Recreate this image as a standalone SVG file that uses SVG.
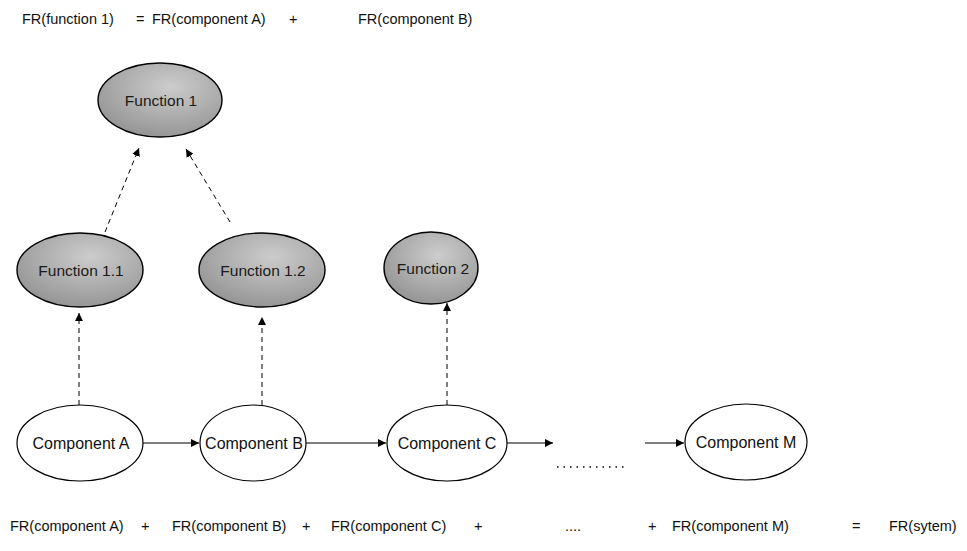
<svg xmlns="http://www.w3.org/2000/svg" width="967" height="551" viewBox="0 0 967 551">
  <defs>
    <marker id="arrow" viewBox="0 0 10 10" refX="10" refY="5" markerWidth="8" markerHeight="8" markerUnits="userSpaceOnUse" orient="auto">
      <path d="M0,0 L10,5 L0,10 z" fill="#000"/>
    </marker>
    <radialGradient id="fnFill" cx="58%" cy="32%" r="72%">
      <stop offset="0" stop-color="#cccccc"/>
      <stop offset="0.55" stop-color="#adadad"/>
      <stop offset="1" stop-color="#939393"/>
    </radialGradient>
  </defs>
  <style>
    text { font-family: "Liberation Sans", Arial, sans-serif; fill: #111; }
    .eq { font-size: 14.5px; }
    .lbl { font-size: 16px; text-anchor: middle; }
    .fn .lbl { font-size: 15.5px; fill: #1a1a1a; }
    .fn ellipse { fill: url(#fnFill); stroke: #000; stroke-width: 1.4; }
    .comp ellipse { fill: #fff; stroke: #000; stroke-width: 1.2; }
    .flow { stroke: #000; stroke-width: 1.2; fill: none; marker-end: url(#arrow); }
    .dash { stroke: #000; stroke-width: 1; fill: none; stroke-dasharray: 5 4; marker-end: url(#arrow); }
  </style>
  <rect width="967" height="551" fill="#fff"/>

  <!-- top equation -->
  <g id="eq-top" class="eq">
    <text x="22" y="24">FR(function 1)</text>
    <text x="136" y="24">=</text>
    <text x="152" y="24">FR(component A)</text>
    <text x="289" y="24">+</text>
    <text x="358" y="24">FR(component B)</text>
  </g>

  <!-- connectors -->
  <g id="connectors">
    <line class="dash" x1="105" y1="232" x2="139" y2="148"/>
    <line class="dash" x1="230" y1="222" x2="186" y2="149"/>
    <line class="dash" x1="79" y1="405" x2="79" y2="313"/>
    <line class="dash" x1="262" y1="405" x2="262" y2="317"/>
    <line class="dash" x1="447" y1="405" x2="447" y2="303"/>
    <line class="flow" x1="143" y1="443" x2="199" y2="443"/>
    <line class="flow" x1="306" y1="443" x2="386" y2="443"/>
    <line class="flow" x1="507" y1="443" x2="553" y2="443"/>
    <line class="flow" x1="645" y1="443" x2="684" y2="443"/>
    <line x1="557" y1="467" x2="626" y2="467" stroke="#000" stroke-width="1.4" stroke-dasharray="1.5 5"/>
  </g>

  <!-- functions -->
  <g id="function-1" class="fn">
    <ellipse cx="160" cy="100" rx="62" ry="37"/>
    <text class="lbl" x="161" y="106">Function 1</text>
  </g>
  <g id="function-1-1" class="fn">
    <ellipse cx="80" cy="270" rx="63" ry="37"/>
    <text class="lbl" x="81" y="276">Function 1.1</text>
  </g>
  <g id="function-1-2" class="fn">
    <ellipse cx="262" cy="270" rx="63" ry="37"/>
    <text class="lbl" x="263" y="276">Function 1.2</text>
  </g>
  <g id="function-2" class="fn">
    <ellipse cx="431" cy="268" rx="47" ry="36"/>
    <text class="lbl" x="433" y="274">Function 2</text>
  </g>

  <!-- components -->
  <g id="component-a" class="comp">
    <ellipse cx="80" cy="443" rx="63" ry="38"/>
    <text class="lbl" x="81" y="449">Component A</text>
  </g>
  <g id="component-b" class="comp">
    <ellipse cx="253" cy="443" rx="53" ry="38"/>
    <text class="lbl" x="254" y="449">Component B</text>
  </g>
  <g id="component-c" class="comp">
    <ellipse cx="447" cy="443" rx="60" ry="38"/>
    <text class="lbl" x="447" y="449">Component C</text>
  </g>
  <g id="component-m" class="comp">
    <ellipse cx="746" cy="442" rx="61" ry="38"/>
    <text class="lbl" x="746" y="448">Component M</text>
  </g>

  <!-- bottom equation -->
  <g id="eq-bottom" class="eq">
    <text x="10" y="531">FR(component A)</text>
    <text x="141" y="531">+</text>
    <text x="172" y="531">FR(component B)</text>
    <text x="302" y="531">+</text>
    <text x="331" y="531">FR(component C)</text>
    <text x="474" y="531">+</text>
    <text x="565" y="531">....</text>
    <text x="648" y="531">+</text>
    <text x="672" y="531">FR(component M)</text>
    <text x="852" y="531">=</text>
    <text x="889" y="531">FR(sytem)</text>
  </g>
</svg>
